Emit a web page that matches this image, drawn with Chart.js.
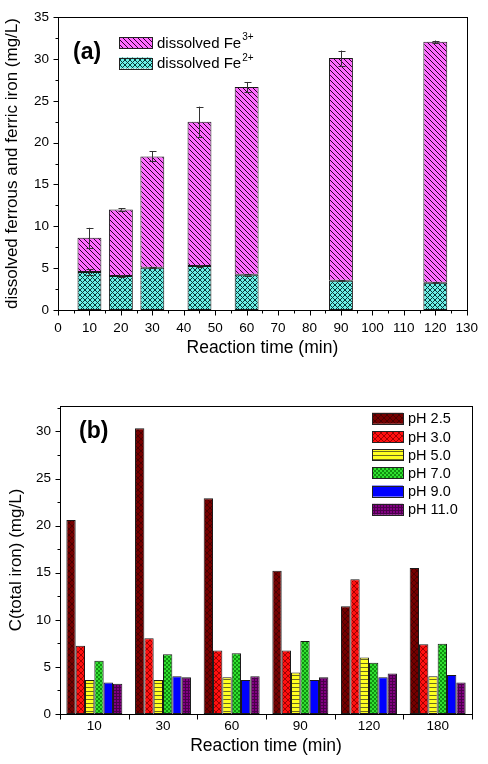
<!DOCTYPE html>
<html>
<head>
<meta charset="utf-8">
<script src="https://cdn.jsdelivr.net/npm/chart.js@4.4.0/dist/chart.umd.min.js"></script>
<style>
  body { margin: 0; background: #fff; width: 488px; height: 764px; position: relative; overflow: hidden; }
  canvas { position: absolute; left: 0; }
  #chartA { top: 0; }
  #chartB { top: 364px; }
</style>
</head>
<body>
<canvas id="chartA" width="488" height="364"></canvas>
<canvas id="chartB" width="488" height="400"></canvas>
<script>
// ── Data: panel (a) ──────────────────────────────────────────────────────────
const TIMES_A = [10, 20, 30, 45, 60, 90, 120];
const FE2 = [4.55, 4.05, 5.05, 5.25, 4.2, 3.5, 3.25];
const FE3 = [4.07, 7.97, 13.3, 17.25, 22.45, 26.6, 28.8];
const ERR_TOTAL = [1.2, 0.15, 0.6, 1.8, 0.6, 0.9, 0.15];
const ERR_FE2 = [0.35, 0.08, 0.08, 0.08, 0.08, 0.08, 0.08];

// ── Data: panel (b) ──────────────────────────────────────────────────────────
const TIMES_B = ['10', '30', '60', '90', '120', '180'];
const PH_LABELS = ['pH 2.5', 'pH 3.0', 'pH 5.0', 'pH 7.0', 'pH 9.0', 'pH 11.0'];
const PH25 = [20.6, 30.35, 22.9, 15.2, 11.45, 15.5];
const PH30 = [7.25, 8.05, 6.75, 6.75, 14.3, 7.4];
const PH50 = [3.6, 3.6, 3.9, 4.4, 6.0, 4.0];
const PH70 = [5.65, 6.35, 6.45, 7.75, 5.45, 7.45];
const PH90 = [3.35, 4.0, 3.6, 3.6, 3.9, 4.15];
const PH110 = [3.2, 3.9, 4.0, 3.9, 4.3, 3.35];

Chart.defaults.font.family = "'Liberation Sans', Arial, sans-serif";
Chart.defaults.color = '#000';
Chart.defaults.animation = false;

// ── Fill patterns ────────────────────────────────────────────────────────────

function makePattern(bg, fg, kind, s) {
  const c = document.createElement('canvas');
  c.width = c.height = s;
  const g = c.getContext('2d');
  g.fillStyle = bg;
  g.fillRect(0, 0, s, s);
  g.strokeStyle = fg;
  g.fillStyle = fg;
  g.lineWidth = 1;
  g.beginPath();
  if (kind === 'back' || kind === 'cross') {
    for (const k of [-s, 0, s]) { g.moveTo(k - 1, -1); g.lineTo(k + s + 1, s + 1); }
  }
  if (kind === 'fwd' || kind === 'cross') {
    for (const k of [-s, 0, s]) { g.moveTo(k - 1, s + 1); g.lineTo(k + s + 1, -1); }
  }
  if (kind === 'horiz' || kind === 'grid') { g.moveTo(0, s - 0.5); g.lineTo(s, s - 0.5); }
  if (kind === 'grid') { g.moveTo(s - 0.5, 0); g.lineTo(s - 0.5, s); }
  g.stroke();
  if (kind === 'checker') {
    g.fillRect(0, 0, s / 2, s / 2);
    g.fillRect(s / 2, s / 2, s / 2, s / 2);
  }
  return g.createPattern(c, 'repeat');
}

const FILL_FE3 = makePattern('#ff6cff', '#2a002a', 'back', 5);
const FILL_FE2 = makePattern('#6cf0e8', '#0a3a38', 'cross', 5);
const PH_FILLS = [
  makePattern('#750000', '#4a0000', 'cross', 6),
  makePattern('#ff1010', '#a00000', 'cross', 6),
  makePattern('#ffff20', '#6a6a20', 'horiz', 4),
  makePattern('#30e030', '#109010', 'checker', 4),
  makePattern('#0000ff', '#0000ff', 'none', 4),
  makePattern('#820082', '#4a004a', 'grid', 3),
];

// ── Plugins ──────────────────────────────────────────────────────────────────

function tickMarks(scale) {
  const out = [];
  if (scale.type === 'category') {
    const n = scale.getLabels().length;
    const w = (scale.right - scale.left) / n;
    for (let i = 0; i <= n; i++) out.push([scale.left + i * w, 5]);
    return out;
  }
  const majors = scale.ticks.map(t => t.value);
  const step = majors[1] - majors[0];
  const half = step / 2;
  for (let v = Math.ceil(scale.min / half) * half; v <= scale.max + 1e-9; v += half) {
    const isMajor = majors.some(m => Math.abs(m - v) < 1e-6);
    out.push([scale.getPixelForValue(v), isMajor ? 5 : 3]);
  }
  return out;
}

const axisFrame = {
  id: 'axisFrame',
  afterDraw(chart) {
    const { ctx, chartArea: a } = chart;
    ctx.save();
    ctx.strokeStyle = '#000';
    ctx.lineWidth = 1;
    ctx.strokeRect(Math.round(a.left) + 0.5, Math.round(a.top) + 0.5,
      Math.round(a.right - a.left), Math.round(a.bottom - a.top));
    ctx.beginPath();
    const bottom = Math.round(a.bottom) + 0.5;
    const left = Math.round(a.left) + 0.5;
    tickMarks(chart.scales.x).forEach(([p, len]) => {
      const x = Math.round(p) + 0.5;
      ctx.moveTo(x, bottom); ctx.lineTo(x, bottom + len);
    });
    tickMarks(chart.scales.y).forEach(([p, len]) => {
      const y = Math.round(p) + 0.5;
      ctx.moveTo(left, y); ctx.lineTo(left - len, y);
    });
    ctx.stroke();
    ctx.restore();
  }
};

const boxLegend = {
  id: 'boxLegend',
  afterDraw(chart, args, o) {
    const ctx = chart.ctx;
    ctx.save();
    o.items.forEach((it, i) => {
      const yc = o.y + i * o.rowH;
      ctx.fillStyle = it.fill;
      ctx.fillRect(o.x, yc - o.boxH / 2, o.boxW, o.boxH);
      ctx.strokeStyle = '#222';
      ctx.lineWidth = 1;
      ctx.strokeRect(o.x + 0.5, Math.round(yc - o.boxH / 2) + 0.5, o.boxW, o.boxH);
      ctx.fillStyle = '#000';
      ctx.textBaseline = 'middle';
      ctx.textAlign = 'left';
      ctx.font = `${o.size}px 'Liberation Sans', Arial, sans-serif`;
      const tx = o.x + o.boxW + 5;
      ctx.fillText(it.text, tx, yc + 1);
      if (it.sup) {
        const w = ctx.measureText(it.text).width;
        ctx.font = `${Math.round(o.size * 0.65)}px 'Liberation Sans', Arial, sans-serif`;
        ctx.fillText(it.sup, tx + w + 1, yc - 5);
      }
    });
    if (o.tag) {
      ctx.font = `bold ${o.tag.size}px 'Liberation Sans', Arial, sans-serif`;
      ctx.textBaseline = 'middle';
      ctx.fillText(o.tag.text, o.tag.x, o.tag.y);
    }
    ctx.restore();
  }
};

const errorBars = {
  id: 'errorBars',
  afterDatasetsDraw(chart) {
    const { ctx, scales: { x, y } } = chart;
    ctx.save();
    ctx.strokeStyle = '#333';
    ctx.lineWidth = 1;
    ctx.beginPath();
    const bar = (t, v, e) => {
      const px = Math.round(x.getPixelForValue(t)) + 0.5;
      const y1 = y.getPixelForValue(v + e);
      const y2 = y.getPixelForValue(v - e);
      ctx.moveTo(px, y1); ctx.lineTo(px, y2);
      ctx.moveTo(px - 3, Math.round(y1) + 0.5); ctx.lineTo(px + 4, Math.round(y1) + 0.5);
      ctx.moveTo(px - 3, Math.round(y2) + 0.5); ctx.lineTo(px + 4, Math.round(y2) + 0.5);
    };
    TIMES_A.forEach((t, i) => {
      bar(t, FE2[i], ERR_FE2[i]);
      bar(t, FE2[i] + FE3[i], ERR_TOTAL[i]);
    });
    ctx.stroke();
    ctx.restore();
  }
};

// ── Panel (a) ────────────────────────────────────────────────────────────────

new Chart(document.getElementById('chartA'), {
  type: 'bar',
  data: {
    datasets: [
      {
        label: 'dissolved Fe2+',
        data: TIMES_A.map((t, i) => ({ x: t, y: FE2[i] })),
        backgroundColor: FILL_FE2,
        borderColor: '#1a1a1a', borderWidth: 1, borderSkipped: false,
        barPercentage: 0.76, categoryPercentage: 1,
      },
      {
        label: 'dissolved Fe3+',
        data: TIMES_A.map((t, i) => ({ x: t, y: FE3[i] })),
        backgroundColor: FILL_FE3,
        borderColor: '#1a1a1a', borderWidth: 1, borderSkipped: false,
        barPercentage: 0.76, categoryPercentage: 1,
      },
    ],
  },
  options: {
    responsive: false,
    layout: { padding: { top: 15, right: 20, left: 0, bottom: 0 } },
    plugins: {
      legend: { display: false },
      tooltip: { enabled: false },
      boxLegend: {
        x: 119, y: 42.5, rowH: 20.5, boxW: 33, boxH: 11, size: 15,
        items: [
          { fill: FILL_FE3, text: 'dissolved Fe', sup: '3+' },
          { fill: FILL_FE2, text: 'dissolved Fe', sup: '2+' },
        ],
        tag: { text: '(a)', x: 73, y: 53, size: 23 },
      },
    },
    scales: {
      x: {
        type: 'linear', stacked: true, offset: false, min: 0, max: 130,
        grid: { display: false, drawTicks: false, offset: false },
        border: { display: false },
        ticks: { stepSize: 10, padding: 10, font: { size: 13.5 }, maxRotation: 0 },
        title: { display: true, text: 'Reaction time (min)', font: { size: 17.5 }, padding: { top: 0, bottom: 5 } },
        afterFit(s) { s.height = 54; },
      },
      y: {
        stacked: true, min: 0, max: 35,
        grid: { display: false, drawTicks: false },
        border: { display: false },
        ticks: { stepSize: 5, padding: 9, font: { size: 13.5 } },
        title: { display: true, text: 'dissolved ferrous and ferric iron (mg/L)', font: { size: 17 }, padding: { top: 2, bottom: 0 } },
        afterFit(s) { s.width = 58; },
      },
    },
  },
  plugins: [axisFrame, errorBars, boxLegend],
});

// ── Panel (b) ────────────────────────────────────────────────────────────────

const PH_SERIES = [PH25, PH30, PH50, PH70, PH90, PH110];

new Chart(document.getElementById('chartB'), {
  type: 'bar',
  data: {
    labels: TIMES_B,
    datasets: PH_SERIES.map((vals, i) => ({
      label: PH_LABELS[i],
      data: vals,
      backgroundColor: PH_FILLS[i],
      borderColor: '#1a1a1a', borderWidth: 1, borderSkipped: false,
      barPercentage: 1, categoryPercentage: 0.815,
    })),
  },
  options: {
    responsive: false,
    layout: { padding: { top: 42, right: 16, left: 0, bottom: 0 } },
    plugins: {
      legend: { display: false },
      tooltip: { enabled: false },
      boxLegend: {
        x: 372, y: 54.3, rowH: 18.2, boxW: 31, boxH: 11, size: 14.5,
        items: PH_LABELS.map((t, i) => ({ fill: PH_FILLS[i], text: t })),
        tag: { text: '(b)', x: 79, y: 68, size: 23 },
      },
    },
    scales: {
      x: {
        grid: { display: false, drawTicks: false },
        border: { display: false },
        ticks: { padding: 4, font: { size: 13.5 }, maxRotation: 0 },
        title: { display: true, text: 'Reaction time (min)', font: { size: 17.5 }, padding: { top: 0, bottom: 7 } },
        afterFit(s) { s.height = 50; },
      },
      y: {
        min: 0, max: 32.7,
        grid: { display: false, drawTicks: false },
        border: { display: false },
        ticks: { stepSize: 5, includeBounds: false, padding: 9, font: { size: 13.5 } },
        title: { display: true, text: 'C(total iron) (mg/L)', font: { size: 17 }, padding: { top: 6, bottom: 0 } },
        afterFit(s) { s.width = 60; },
      },
    },
  },
  plugins: [axisFrame, boxLegend],
});
</script>
</body>
</html>
